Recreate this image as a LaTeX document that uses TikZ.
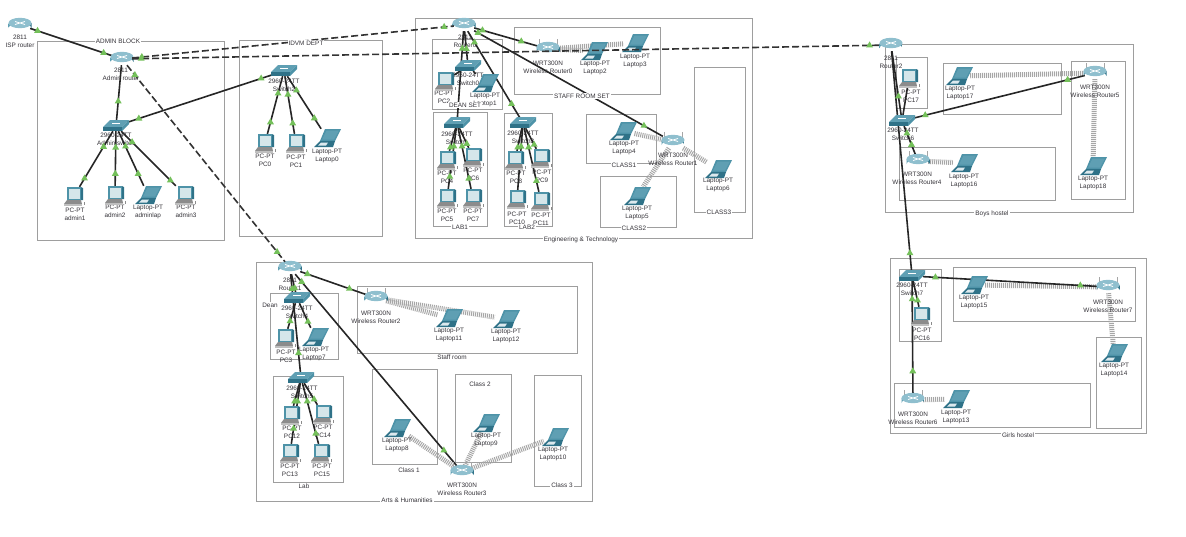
\documentclass[tikz,border=0pt]{standalone}
\usepackage{fontspec}
\setmainfont{Liberation Sans}
\usetikzlibrary{shapes.geometric}
\pgfdeclarelayer{zones}\pgfdeclarelayer{wifi}\pgfdeclarelayer{texts}\pgfdeclarelayer{wires}\pgfdeclarelayer{over}\pgfdeclarelayer{top}
\pgfsetlayers{zones,wifi,texts,wires,main,over,top}
\definecolor{txt}{HTML}{36343A}
\definecolor{tealA}{HTML}{4E93A8}
\definecolor{tealB}{HTML}{2F7288}
\definecolor{tealC}{HTML}{8FBFCE}
\definecolor{tealD}{HTML}{5F9FB3}
\definecolor{scr}{HTML}{D5E6EA}
\definecolor{tri}{HTML}{74C05A}
\tikzset{
 x=1pt,y=-1pt,
 zonebox/.style={draw=black!38,line width=1pt},
 zonelab/.style={fill=white,inner sep=1pt,font=\fontsize{6.4}{7}\selectfont,text=txt},
 devlab/.style={align=center,inner sep=0pt,font=\fontsize{6.4}{8.2}\selectfont,text=txt},
 hitrouter/.style={inner sep=0pt,minimum width=20pt,minimum height=12pt},
 hitwrt/.style={inner sep=0pt,minimum width=20pt,minimum height=12pt},
 hitswitch/.style={inner sep=0pt,minimum width=22pt,minimum height=10pt},
 hitpc/.style={inner sep=0pt,minimum width=18pt,minimum height=18pt},
 hitlaptop/.style={inner sep=0pt,minimum width=22pt,minimum height=18pt},
 wirestyle/.style={draw=black!85,line width=1.6pt},
 trunkstyle/.style={draw=black!80,line width=1.6pt,dash pattern=on 7pt off 3pt},
 radio/.style={draw=black!35,line width=5pt,dash pattern=on 1pt off 1pt},
 greentri/.style={regular polygon,regular polygon sides=3,fill=tri,inner sep=0pt,minimum size=8pt},
 routericon/.pic={
  \shade[left color=tealD,right color=tealB] (-11.5,-2) -- (-11.5,3) arc[start angle=180,end angle=360,x radius=11.5,y radius=4.5] -- (11.5,-2) -- cycle;
  \fill[tealC] (0,-2) ellipse [x radius=11.5,y radius=5.2];
  \draw[white,line width=.8pt] (-5,-3.5)--(5,-.5) (-5,-.5)--(5,-3.5);
 },
 wrticon/.pic={
  \draw[black!35,line width=.5pt] (-9,-2)--(-9,-10) (9,-2)--(9,-10);
  \shade[left color=tealD,right color=tealB] (-11.5,-2) -- (-11.5,3) arc[start angle=180,end angle=360,x radius=11.5,y radius=4.5] -- (11.5,-2) -- cycle;
  \fill[tealC] (0,-2) ellipse [x radius=11.5,y radius=5.2];
  \draw[white,line width=.8pt] (-5,-3.5)--(5,-.5) (-5,-.5)--(5,-3.5);
 },
 switchicon/.pic={
  \fill[tealD] (-6,-6)--(13,-6)--(6,1)--(-13,1)--cycle;
  \fill[tealB] (-13,1)--(6,1)--(6,5)--(-13,5)--cycle;
  \fill[tealA] (6,1)--(13,-6)--(13,-2)--(6,5)--cycle;
  \draw[white,line width=.4pt] (-4,-2.5)--(4,-2.5);
 },
 pcicon/.pic={
  \fill[tealB] (7,-9)--(9,-8)--(9,4)--(7,4)--cycle;
  \fill[tealA] (-7,-9) rectangle (7,4);
  \fill[scr] (-5.5,-7.5) rectangle (5.5,2.5);
  \fill[black!45] (-10,8)--(-7,4)--(7,4)--(8,8)--cycle;
  \fill[black!25] (-10,8) rectangle (8,9.5);
  \fill[black!45] (10,6) rectangle (11,9);
 },
 laptopicon/.pic={
  \fill[tealA] (-2,-9)--(14,-9)--(8,3)--(-7,3)--cycle;
  \fill[tealD] (-.5,-7.5)--(12,-7.5)--(7,1.5)--(-5,1.5)--cycle;
  \fill[tealB] (-7,3)--(8,3)--(6,9)--(-13,9)--cycle;
  \fill[white!80!tealA] (-6,4.5)--(1,4.5)--(-1,7.5)--(-9,7.5)--cycle;
 },
}
% kind, name, icon position, label position, first line, second line
\newcommand\dev[6]{%
 \node[hit#1] (#2) at (#3) {};
 \pic at (#3) {#1icon};
 \begin{pgfonlayer}{texts}\node[devlab] (#2-l) at (#4) {#5\\#6};\end{pgfonlayer}}
\newcommand\zone[4]{%
 \begin{pgfonlayer}{zones}\draw[zonebox] (#1) rectangle (#2);\end{pgfonlayer}%
 \ifx\relax#4\relax\else\begin{pgfonlayer}{top}\node[zonelab] at (#3) {#4};\end{pgfonlayer}\fi}
\newcommand\tris[3]{\begin{pgfonlayer}{over}\foreach \p in {#3}{\path (#1)--(#2) node[greentri,pos=\p]{};}\end{pgfonlayer}}
\newcommand\wire[3]{\begin{pgfonlayer}{wires}\draw[wirestyle] (#1)--(#2);\end{pgfonlayer}\tris{#1}{#2}{#3}}
\newcommand\trunk[3]{\begin{pgfonlayer}{over}\draw[trunkstyle] (#1)--(#2);\end{pgfonlayer}\tris{#1}{#2}{#3}}
\newcommand\radiolink[2]{\begin{pgfonlayer}{wifi}\draw[radio] (#1)--(#2);\end{pgfonlayer}}
\begin{document}
\begin{tikzpicture}
\useasboundingbox (0,0) rectangle (1186,536);
\begin{pgfonlayer}{zones}\fill[white] (0,0) rectangle (1186,536);\end{pgfonlayer}
% zones
\zone{37,41}{224,240}{118,41}{ADMIN BLOCK}
\zone{239,40}{382,236}{306,43}{IDVM DEPT}
\zone{415,18}{752,238}{581,240}{Engineering \& Technology}
\zone{432,39}{502,109}{465,105}{DEAN SET}
\zone{433,112}{487,226}{460,227}{LAB1}
\zone{504,113}{552,226}{527,227}{LAB2}
\zone{514,27}{660,94}{582,96}{STAFF ROOM SET}
\zone{586,114}{656,163}{624,165}{CLASS1}
\zone{600,176}{676,227}{634,228}{CLASS2}
\zone{694,67}{745,212}{719,212}{CLASS3}
\zone{256,262}{592,501}{407,500}{Arts \& Humanities}
\zone{270,293}{338,359}{270,305}{Dean}
\zone{273,376}{343,482}{304,486}{Lab}
\zone{357,286}{577,353}{452,357}{Staff room}
\zone{372,369}{437,464}{409,470}{Class 1}
\zone{455,374}{511,462}{480,384}{Class 2}
\zone{534,375}{581,486}{562,485}{Class 3}
\zone{885,44}{1133,212}{992,214}{Boys hostel}
\zone{896,57}{927,108}{0,0}{}
\zone{943,63}{1061,114}{0,0}{}
\zone{1071,61}{1125,199}{0,0}{}
\zone{899,147}{1055,200}{0,0}{}
\zone{890,258}{1146,433}{1018,435}{Girls hostel}
\zone{899,269}{941,341}{0,0}{}
\zone{953,267}{1135,321}{0,0}{}
\zone{1096,337}{1141,428}{0,0}{}
\zone{894,383}{1090,427}{0,0}{}
% admin
\dev{router}{isp}{20,25}{20,41}{2811}{ISP router}
\dev{router}{adminr}{122,59}{121,74}{2811}{Admin router}
\dev{switch}{adminsw}{116,126}{116,139}{2960-24TT}{Admin switch}
\dev{pc}{admin1}{74,196}{75,214}{PC-PT}{admin1}
\dev{pc}{admin2}{115,195}{115,211.5}{PC-PT}{admin2}
\dev{laptop}{adminlap}{148,195}{148,212}{Laptop-PT}{adminlap}
\dev{pc}{admin3}{185,195}{186,211.5}{PC-PT}{admin3}
% IDVM
\dev{switch}{sw2}{284,71}{284,85}{2960-24TT}{Switch2}
\dev{pc}{pc0}{265,143}{265,160}{PC-PT}{PC0}
\dev{pc}{pc1}{296,143}{296,161.5}{PC-PT}{PC1}
\dev{laptop}{lap0}{327,138}{327,156}{Laptop-PT}{Laptop0}
% engineering
\dev{router}{r0}{464,25}{465,41}{2811}{Router0}
\dev{switch}{sw0}{468,66}{468,79}{2950-24TT}{Switch0}
\dev{pc}{pc2}{445,81}{444,97.5}{PC-PT}{PC2}
\dev{laptop}{lap1}{485,83}{485,100}{Laptop-PT}{Laptop1}
\dev{switch}{sw1}{457,123}{457,138}{2960-24TT}{Switch1}
\dev{pc}{pc4}{447,160}{447,177}{PC-PT}{PC4}
\dev{pc}{pc6}{473,157}{473,174}{PC-PT}{PC6}
\dev{pc}{pc5}{447,198}{447,215}{PC-PT}{PC5}
\dev{pc}{pc7}{473,198}{473,215}{PC-PT}{PC7}
\dev{switch}{sw3}{523,123}{523,137.5}{2960-24TT}{Switch3}
\dev{pc}{pc8}{515,160}{516,177}{PC-PT}{PC8}
\dev{pc}{pc9}{541,158}{542,176}{PC-PT}{PC9}
\dev{pc}{pc10}{517,199}{517,218}{PC-PT}{PC10}
\dev{pc}{pc11}{541,201}{541,219}{PC-PT}{PC11}
\dev{wrt}{wr0}{548,49}{548,67}{WRT300N}{Wireless Router0}
\dev{laptop}{lap2}{594,51}{595,68}{Laptop-PT}{Laptop2}
\dev{laptop}{lap3}{635,43}{635,61}{Laptop-PT}{Laptop3}
\dev{laptop}{lap4}{623,131}{624,148}{Laptop-PT}{Laptop4}
\dev{wrt}{wr1}{673,142}{673,159}{WRT300N}{Wireless Router1}
\dev{laptop}{lap5}{637,196}{637,213}{Laptop-PT}{Laptop5}
\dev{laptop}{lap6}{718,169}{718,185}{Laptop-PT}{Laptop6}
% arts
\dev{router}{r1}{290,268}{290,284}{2811}{Router1}
\dev{switch}{sw4}{297,298}{297,312}{2960-24TT}{Switch4}
\dev{pc}{pc3}{285,338}{286,356}{PC-PT}{PC3}
\dev{laptop}{lap7}{315,337}{314,354}{Laptop-PT}{Laptop7}
\dev{switch}{sw5}{301,378}{302,392}{2960-24TT}{Switch5}
\dev{pc}{pc12}{291,415}{292,432}{PC-PT}{PC12}
\dev{pc}{pc14}{323,414}{323,431}{PC-PT}{PC14}
\dev{pc}{pc13}{290,453}{290,470}{PC-PT}{PC13}
\dev{pc}{pc15}{321,453}{322,470}{PC-PT}{PC15}
\dev{wrt}{wr2}{376,298}{376,317}{WRT300N}{Wireless Router2}
\dev{laptop}{lap11}{449,318}{449,335}{Laptop-PT}{Laptop11}
\dev{laptop}{lap12}{506,319}{506,336}{Laptop-PT}{Laptop12}
\dev{laptop}{lap8}{397,428}{397,445}{Laptop-PT}{Laptop8}
\dev{laptop}{lap9}{486,423}{486,440}{Laptop-PT}{Laptop9}
\dev{laptop}{lap10}{555,437}{553,454}{Laptop-PT}{Laptop10}
\dev{wrt}{wr3}{462,472}{462,489}{WRT300N}{Wireless Router3}
% boys
\dev{router}{r2}{891,45}{891,62}{2811}{Router2}
\dev{pc}{pc17}{909,78}{911,96}{PC-PT}{PC17}
\dev{switch}{sw6}{902,121}{903,134}{2960-24TT}{Switch6}
\dev{laptop}{lap17}{959,76}{960,93}{Laptop-PT}{Laptop17}
\dev{wrt}{wr5}{1095,73}{1095,91}{WRT300N}{Wireless Router5}
\dev{laptop}{lap18}{1093,166}{1093,183}{Laptop-PT}{Laptop18}
\dev{wrt}{wr4}{918,161}{917,178}{WRT300N}{Wireless Router4}
\dev{laptop}{lap16}{964,163}{964,181}{Laptop-PT}{Laptop16}
% girls
\dev{switch}{sw7}{912,276}{912,289}{2960-24TT}{Switch7}
\dev{pc}{pc16}{921,316}{922,334}{PC-PT}{PC16}
\dev{laptop}{lap15}{974,285}{974,302}{Laptop-PT}{Laptop15}
\dev{wrt}{wr7}{1108,287}{1108,306}{WRT300N}{Wireless Router7}
\dev{laptop}{lap14}{1114,353}{1114,370}{Laptop-PT}{Laptop14}
\dev{wrt}{wr6}{913,400}{913,418}{WRT300N}{Wireless Router6}
\dev{laptop}{lap13}{956,399}{956,417}{Laptop-PT}{Laptop13}
% radio links
\radiolink{wr0}{lap2}\radiolink{wr0}{lap3}
\radiolink{wr1}{lap4}\radiolink{wr1}{lap5}\radiolink{wr1}{lap6}
\radiolink{wr2}{lap11}\radiolink{wr2}{lap12}
\radiolink{wr3}{lap8}\radiolink{wr3}{lap9}\radiolink{wr3}{lap10}
\radiolink{wr4}{lap16}\radiolink{wr5}{lap17}\radiolink{wr5}{lap18}
\radiolink{wr6}{lap13}\radiolink{wr7}{lap15}\radiolink{wr7}{lap14}
% trunks
\trunk{adminr}{r0}{.03,.97}
\trunk{adminr}{r2}{.012,.985}
\trunk{adminr}{r1}{.05,.95}
% wires admin
\wire{isp}{adminr}{.09,.9}
\wire{adminr}{adminsw}{.65}
\wire{adminsw}{sw2}{.08,.92}
\wire{adminsw}{admin1}{.28,.85}
\wire{adminsw}{admin2}{.3,.78}
\wire{adminsw}{adminlap}{.28,.78}
\wire{adminsw}{admin3}{.2,.9}
\wire{sw2}{pc0}{.3,.8}
\wire{sw2}{pc1}{.32,.82}
\wire{sw2}{lap0}{.27,.8}
% wires engineering
\wire{r0}{sw0}{.6}
\wire{r0}{sw1}{.2}
\wire{r0}{sw3}{.13,.84}
\wire{r0}{wr0}{.13,.74}
\wire{r0}{wr1}{.02,.9}
\wire{sw0}{pc2}{}
\wire{sw0}{lap1}{}
\wire{sw1}{pc4}{.85}
\wire{sw1}{pc5}{.3,.8}
\wire{sw1}{pc6}{.8}
\wire{sw1}{pc7}{.3,.83}
\wire{sw3}{pc8}{.85}
\wire{sw3}{pc10}{.3}
\wire{sw3}{pc9}{.8}
\wire{sw3}{pc11}{.3,.83}
% wires arts
\wire{r1}{sw4}{.75}
\wire{r1}{sw5}{.15,.8}
\wire{r1}{wr2}{.11,.75}
\wire{r1}{wr3}{.04,.92}
\wire{sw4}{pc3}{.7}
\wire{sw4}{lap7}{.75}
\wire{sw5}{pc12}{.8}
\wire{sw5}{pc13}{.3,.75}
\wire{sw5}{pc14}{.75}
\wire{sw5}{pc15}{.3,.83}
% wires hostels
\wire{r2}{sw6}{.7}
\wire{r2}{sw7}{.92}
\wire{sw6}{pc17}{}
\wire{sw6}{wr5}{.07,.9}
\wire{sw6}{wr4}{.25,.65}
\wire{sw7}{wr7}{.07,.9}
\wire{sw7}{pc16}{.75}
\wire{sw7}{wr6}{.16,.8}
\end{tikzpicture}
\end{document}
